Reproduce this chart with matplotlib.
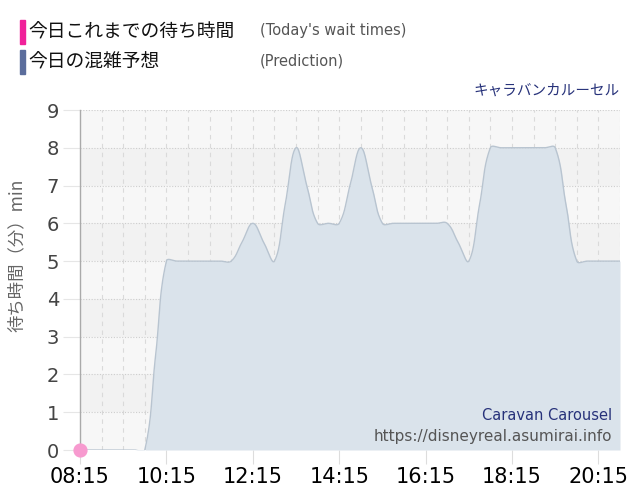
import numpy as np
import matplotlib.pyplot as plt

# prediction, one value every 15 minutes from 08:15 to 20:45
pred_start = "08:15"
pred_step = 15
pred_wait = [0, 0, 0, 0, 0, 0, 0,
             2.5,
             5, 5, 5, 5, 5, 5, 5,
             5.5, 6, 5.5, 5, 6.5, 8, 7, 6, 6, 6, 7, 8, 7,
             6, 6, 6, 6, 6, 6, 6,
             5.5, 5, 6.5,
             8, 8, 8, 8, 8, 8, 8,
             6.5,
             5, 5, 5, 5, 5]
today_times = ["08:15"]
today_wait = [0]
tick_labels = ["08:15", "10:15", "12:15", "14:15", "16:15", "18:15", "20:15"]
x_end = "20:45"


def to_min(t):
    h, m = t.split(":")
    return int(h) * 60 + int(m) - (8 * 60 + 15)


def spline(ax, xs, ys, tension=0.4):
    # chart.js like cubic spline, worked out in screen space
    tr = ax.transData
    p = tr.transform(np.column_stack([xs, ys]))
    n = len(p)
    prev_cp = p.copy()
    next_cp = p.copy()
    for i in range(n):
        a = p[max(i - 1, 0)]
        b = p[i]
        c = p[min(i + 1, n - 1)]
        d01 = np.hypot(*(b - a))
        d12 = np.hypot(*(c - b))
        tot = d01 + d12
        s01 = d01 / tot if tot else 0
        s12 = d12 / tot if tot else 0
        prev_cp[i] = b - tension * s01 * (c - a)
        next_cp[i] = b + tension * s12 * (c - a)
    t = np.linspace(0, 1, 30)[:, None]
    out = []
    for i in range(1, n):
        p0, p1, p2, p3 = p[i - 1], next_cp[i - 1], prev_cp[i], p[i]
        seg = ((1 - t) ** 3) * p0 + 3 * ((1 - t) ** 2) * t * p1 + 3 * (1 - t) * t ** 2 * p2 + t ** 3 * p3
        out.append(seg)
    pts = tr.inverted().transform(np.vstack(out))
    return pts[:, 0], pts[:, 1]


fig = plt.figure(figsize=(6.4, 5), dpi=100)
ax = fig.add_axes([80 / 640, 0.1, 540 / 640, 0.68])

xmax = to_min(x_end)
ax.set_xlim(0, xmax)
ax.set_ylim(0, 9)

# alternating bands
for k in range(9):
    c = "#f7f7f7" if (8 - k) % 2 == 0 else "#f2f2f2"
    ax.axhspan(k, k + 1, color=c, lw=0, zorder=0)

for v in np.arange(30, xmax + 1, 30):
    ax.axvline(v, color="#dadada", lw=0.8, ls=(0, (4, 4)), zorder=1)
for k in range(1, 10):
    ax.axhline(k, color="#cdcdcd", lw=0.8, ls=(0, (1, 1.5)), zorder=1)

px = [to_min(pred_start) + i * pred_step for i in range(len(pred_wait))]
cx, cy = spline(ax, px, pred_wait)
ax.fill_between(cx, cy, 0, color="#dae3eb", lw=0, zorder=2)
ax.plot(cx, cy, color="#b8c4d0", lw=1, zorder=3)

ax.scatter([to_min(t) for t in today_times], today_wait, s=85, color="#f79acf",
           zorder=5, clip_on=False)

ax.set_xticks([to_min(t) for t in tick_labels])
ax.set_xticklabels(tick_labels, fontsize=15, color="black")
ax.set_yticks(range(10))
ax.set_yticklabels([str(k) for k in range(10)], fontsize=14, color="#444444")
ax.tick_params(axis="x", length=10, color="#dddddd", pad=2)
ax.tick_params(axis="y", length=12, color="#e6e6e6", pad=3)

for s in ["top", "right", "bottom"]:
    ax.spines[s].set_visible(False)
ax.spines["left"].set_color("#aaaaaa")
ax.spines["left"].set_linewidth(1)

jp = ["Noto Sans CJK JP", "DejaVu Sans"]
fig.text(17 / 640, 1 - 255 / 500, "待ち時間（分）min", rotation=90, ha="center", va="center",
         fontsize=12.5, color="#666666", family=jp)

# header
fig.patches.append(plt.Rectangle((20 / 640, 1 - 44 / 500), 5 / 640, 24 / 500,
                                 transform=fig.transFigure, color="#f0219a"))
fig.patches.append(plt.Rectangle((20 / 640, 1 - 74 / 500), 5 / 640, 24 / 500,
                                 transform=fig.transFigure, color="#5b6d9c"))
fig.text(28 / 640, 1 - 32 / 500, "今日これまでの待ち時間", fontsize=13.5, va="center",
         color="#111111", family=jp)
fig.text(28 / 640, 1 - 62 / 500, "今日の混雑予想", fontsize=13.5, va="center",
         color="#111111", family=jp)
fig.text(260 / 640, 1 - 31 / 500, "(Today's wait times)", fontsize=10.5, va="center",
         color="#555555")
fig.text(260 / 640, 1 - 61 / 500, "(Prediction)", fontsize=10.5, va="center",
         color="#555555")
fig.text(620 / 640, 1 - 91 / 500, "キャラバンカルーセル", fontsize=10.5, ha="right",
         va="center", color="#27327a", family=jp)

fig.text(612 / 640, 1 - 415 / 500, "Caravan Carousel", fontsize=10.5, ha="right",
         va="center", color="#27327a")
fig.text(612 / 640, 1 - 436 / 500, "https://disneyreal.asumirai.info", fontsize=11,
         ha="right", va="center", color="#555555")

fig.savefig("out.png", dpi=100)
